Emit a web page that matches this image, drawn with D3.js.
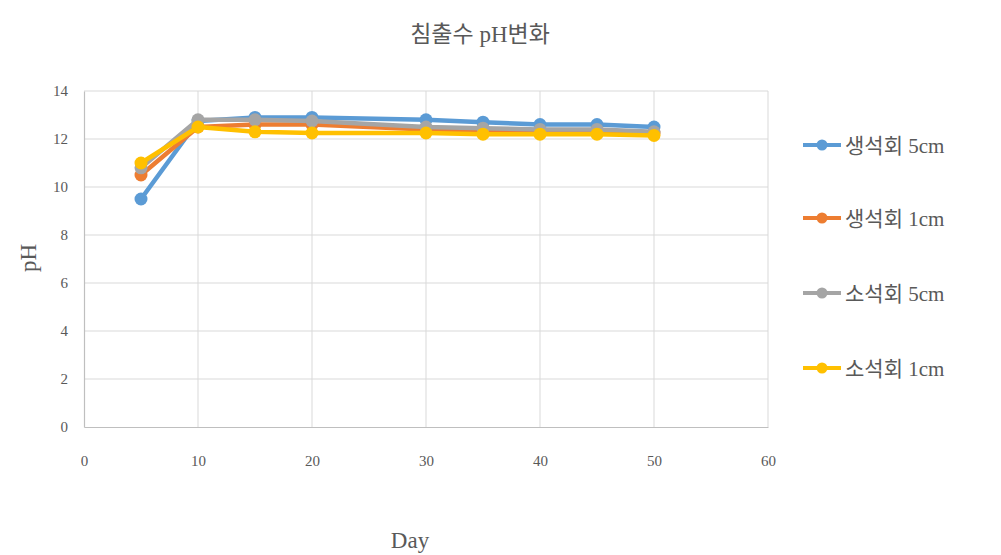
<!DOCTYPE html>
<html>
<head>
<meta charset="utf-8">
<script src="https://cdn.jsdelivr.net/npm/d3@7"></script>
<style>
  html, body { margin: 0; padding: 0; background: #fff; }
  svg { display: block; }
  text { font-family: "Liberation Serif", "Noto Sans CJK KR", serif; fill: #595959; }
</style>
</head>
<body>
<svg id="chart" width="1001" height="555"></svg>
<script>
// Sampling days
const days = [5, 10, 15, 20, 30, 35, 40, 45, 50];

// pH of leachate per treatment
const quick5 = [9.5, 12.75, 12.9, 12.9, 12.8, 12.7, 12.6, 12.6, 12.5];
const quick1 = [10.5, 12.5, 12.6, 12.6, 12.4, 12.35, 12.3, 12.3, 12.25];
const slaked5 = [10.8, 12.8, 12.8, 12.75, 12.5, 12.45, 12.4, 12.4, 12.3];
const slaked1 = [11.0, 12.5, 12.3, 12.25, 12.25, 12.2, 12.2, 12.2, 12.15];

const seriesNames = ["생석회 5cm", "생석회 1cm", "소석회 5cm", "소석회 1cm"];
const seriesColors = ["#5B9BD5", "#ED7D31", "#A5A5A5", "#FFC000"];

const xTicks = [0, 10, 20, 30, 40, 50, 60];
const yTicks = [0, 2, 4, 6, 8, 10, 12, 14];

const title = "침출수 pH변화";
const xTitle = "Day";
const yTitle = "pH";

const series = [quick5, quick1, slaked5, slaked1].map((vals, i) => ({
  name: seriesNames[i],
  color: seriesColors[i],
  points: days.map((d, j) => ({ x: d, y: vals[j] }))
}));

const svg = d3.select("#chart");
const plot = { left: 84, right: 768, top: 91, bottom: 427 };

const x = d3.scaleLinear().domain([0, 60]).range([plot.left, plot.right]);
const y = d3.scaleLinear().domain([0, 14]).range([plot.bottom, plot.top]);

// Gridlines
const grid = svg.append("g");
grid.selectAll(".hg").data(yTicks.filter(t => t > 0)).join("line")
  .attr("x1", plot.left).attr("x2", plot.right)
  .attr("y1", d => y(d)).attr("y2", d => y(d))
  .attr("stroke", "#d9d9d9").attr("stroke-width", 1);
grid.selectAll(".vg").data(xTicks.filter(t => t > 0)).join("line")
  .attr("x1", d => x(d)).attr("x2", d => x(d))
  .attr("y1", plot.top).attr("y2", plot.bottom)
  .attr("stroke", "#d9d9d9").attr("stroke-width", 1);

// Axes
const xAxis = svg.append("g").attr("transform", `translate(0,${plot.bottom})`)
  .call(d3.axisBottom(x).tickValues(xTicks).tickSize(0).tickPadding(28));
const yAxis = svg.append("g").attr("transform", `translate(${plot.left},0)`)
  .call(d3.axisLeft(y).tickValues(yTicks).tickSize(0).tickPadding(16));
[xAxis, yAxis].forEach(g => {
  g.select(".domain").attr("stroke", "#bfbfbf").attr("stroke-width", 1.2);
  g.selectAll("text").attr("font-size", 15).attr("fill", "#595959")
    .attr("font-family", "Liberation Serif, serif");
});

// Lines and markers
const line = d3.line().x(d => x(d.x)).y(d => y(d.y));
const marks = svg.append("g");
series.forEach(s => {
  marks.append("path").datum(s.points)
    .attr("d", line).attr("fill", "none")
    .attr("stroke", s.color).attr("stroke-width", 4.5)
    .attr("stroke-linejoin", "round");
  marks.selectAll(null).data(s.points).join("circle")
    .attr("cx", d => x(d.x)).attr("cy", d => y(d.y)).attr("r", 6.5)
    .attr("fill", s.color);
});

// Titles
svg.append("text").attr("x", 480).attr("y", 42).attr("text-anchor", "middle")
  .attr("font-size", 23).text(title);
svg.append("text").attr("x", 410).attr("y", 548).attr("text-anchor", "middle")
  .attr("font-size", 23).text(xTitle);
svg.append("text").attr("transform", `translate(36,258) rotate(-90)`)
  .attr("text-anchor", "middle").attr("font-size", 23).text(yTitle);

// Legend
const legend = svg.append("g");
const legendY = [145, 218, 293, 368];
series.forEach((s, i) => {
  const g = legend.append("g").attr("transform", `translate(803,${legendY[i]})`);
  g.append("line").attr("x1", 0).attr("x2", 38).attr("y1", 0).attr("y2", 0)
    .attr("stroke", s.color).attr("stroke-width", 4);
  g.append("circle").attr("cx", 19).attr("cy", 0).attr("r", 5.5).attr("fill", s.color);
  g.append("text").attr("x", 42).attr("y", 8).attr("font-size", 21).text(s.name);
});
</script>
</body>
</html>
